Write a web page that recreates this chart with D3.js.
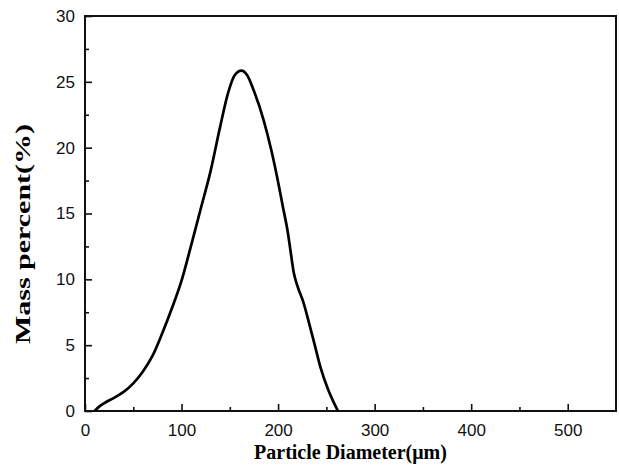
<!DOCTYPE html>
<html>
<head>
<meta charset="utf-8">
<script src="https://cdn.jsdelivr.net/npm/d3@7"></script>
<style>
	body { margin: 0; background: #fff; }
	svg { display: block; }
</style>
</head>
<body>
<svg class="chart"></svg>
<script>
// particle size distribution
var diameters = [10, 15, 20, 30, 40, 50, 60, 70, 80, 90, 100, 110, 120, 130, 140, 148, 155, 162, 168, 175, 185, 193, 200, 205, 210, 213, 216, 220, 226, 232, 238, 244, 252, 258, 262];
var massPercent = [0, 0.35, 0.6, 1.0, 1.45, 2.1, 3.0, 4.2, 5.9, 7.8, 9.9, 12.6, 15.4, 18.2, 21.6, 24.1, 25.5, 25.85, 25.5, 24.3, 22.1, 19.8, 17.4, 15.5, 13.6, 12.1, 10.6, 9.5, 8.3, 6.7, 5.0, 3.3, 1.6, 0.6, 0];
var xTicks = [0, 100, 200, 300, 400, 500];
var yTicks = [0, 5, 10, 15, 20, 25, 30];
var xTitle = 'Particle Diameter(\u03bcm)';
var yTitle = 'Mass percent(%)';

var width = 619, height = 466;
var margin = { top: 16, right: 3, bottom: 55, left: 85 };

var svg = d3.select('.chart')
	.attr('width', width)
	.attr('height', height);

var x = d3.scaleLinear().domain([0, 550]).range([margin.left, width - margin.right]);
var y = d3.scaleLinear().domain([0, 30]).range([height - margin.bottom, margin.top]);

var data = diameters.map((d, i) => [d, massPercent[i]]);

// minor ticks halfway between the majors
var xMinor = d3.range(50, 550, 100);
var yMinor = d3.range(2.5, 30, 5);

svg.append('g')
	.attr('transform', 'translate(0,' + y(0) + ')')
	.call(d3.axisBottom(x).tickValues(xTicks).tickSize(-7).tickPadding(13).tickFormat(d3.format('d')));

svg.append('g')
	.attr('transform', 'translate(0,' + y(0) + ')')
	.call(d3.axisBottom(x).tickValues(xMinor).tickSize(-4).tickFormat(''));

svg.append('g')
	.attr('transform', 'translate(' + x(0) + ',0)')
	.call(d3.axisLeft(y).tickValues(yTicks).tickSize(-7).tickPadding(10).tickFormat(d3.format('d')));

svg.append('g')
	.attr('transform', 'translate(' + x(0) + ',0)')
	.call(d3.axisLeft(y).tickValues(yMinor).tickSize(-4).tickFormat(''));

svg.selectAll('.domain').remove();
svg.selectAll('.tick line').attr('stroke', '#111').attr('stroke-width', 1.6);
svg.selectAll('.tick text')
	.attr('font-family', 'Liberation Sans, Arial, sans-serif')
	.attr('font-size', 17)
	.attr('fill', '#111');

// frame
svg.append('rect')
	.attr('x', x(0))
	.attr('y', y(30))
	.attr('width', x(550) - x(0))
	.attr('height', y(0) - y(30))
	.attr('fill', 'none')
	.attr('stroke', '#111')
	.attr('stroke-width', 2);

var line = d3.line()
	.x(d => x(d[0]))
	.y(d => y(d[1]))
	.curve(d3.curveMonotoneX);

svg.append('path')
	.datum(data)
	.attr('d', line)
	.attr('fill', 'none')
	.attr('stroke', '#000')
	.attr('stroke-width', 2.7);

svg.append('text')
	.attr('x', (x(0) + x(550)) / 2)
	.attr('y', 459)
	.attr('text-anchor', 'middle')
	.attr('font-family', 'Liberation Serif, Times New Roman, serif')
	.attr('font-weight', 'bold')
	.attr('font-size', 20)
	.text(xTitle);

// the y title is drawn stretched along its baseline in the original
svg.append('text')
	.attr('transform', 'translate(30,234) rotate(-90)')
	.attr('text-anchor', 'middle')
	.attr('font-family', 'Liberation Serif, Times New Roman, serif')
	.attr('font-weight', 'bold')
	.attr('font-size', 21)
	.attr('textLength', 220)
	.attr('lengthAdjust', 'spacingAndGlyphs')
	.text(yTitle);
</script>
</body>
</html>
